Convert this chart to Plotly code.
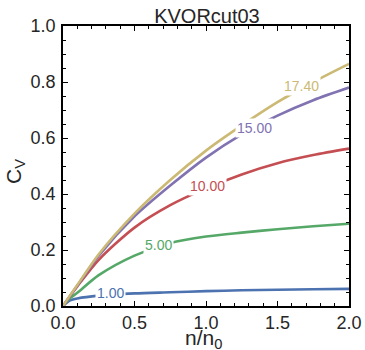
import plotly.graph_objects as go

x_vals = [0, 0.05, 0.1, 0.25, 0.5, 0.75, 1.0, 1.25, 1.5, 1.75, 2.0]
cv_T1 = [0, 0.02, 0.027, 0.037, 0.045, 0.049, 0.053, 0.056, 0.058, 0.06, 0.061]
cv_T5 = [0, 0.028, 0.047, 0.11, 0.18, 0.225, 0.248, 0.262, 0.274, 0.285, 0.294]
cv_T10 = [0, 0.036, 0.07, 0.165, 0.28, 0.36, 0.42, 0.47, 0.51, 0.539, 0.562]
cv_T15 = [0, 0.037, 0.073, 0.18, 0.32, 0.43, 0.53, 0.613, 0.68, 0.735, 0.78]
cv_T17 = [0, 0.038, 0.075, 0.185, 0.33, 0.45, 0.555, 0.645, 0.728, 0.80, 0.865]

labels = ["1.00", "5.00", "10.00", "15.00", "17.40"]
label_x = [0.333, 0.67, 1.01, 1.34, 1.67]
label_y = [0.045, 0.219, 0.43, 0.634, 0.786]
colors = ["#4C72B0", "#55A868", "#C44E52", "#8172B2", "#CCB974"]
series = [cv_T1, cv_T5, cv_T10, cv_T15, cv_T17]

FONT = "Liberation Sans, Arial, sans-serif"
TXT = "#262626"

fig = go.Figure()
for ys, c in zip(series, colors):
    fig.add_trace(go.Scatter(x=x_vals, y=ys, mode="lines",
                             line=dict(color=c, width=2.6, shape="spline", smoothing=0.8),
                             showlegend=False, hoverinfo="skip"))

for t, lx, ly, c in zip(labels, label_x, label_y, colors):
    fig.add_annotation(x=lx, y=ly, text=t, showarrow=False,
                       font=dict(family=FONT, size=14, color=c),
                       bgcolor="white", borderpad=1, xanchor="center", yanchor="middle")

# axis titles
fig.add_annotation(xref="paper", yref="paper", x=0.493, y=-0.118, text="n/n<sub>0</sub>",
                   showarrow=False, xanchor="center", yanchor="middle",
                   font=dict(family=FONT, size=21, color=TXT))
fig.add_annotation(xref="paper", yref="paper", x=-0.17, y=0.48, text="C<sub>V</sub>",
                   showarrow=False, xanchor="center", yanchor="middle", textangle=-90,
                   font=dict(family=FONT, size=21, color=TXT))

axis_common = dict(
    showline=True, linecolor="black", linewidth=1.5, mirror="allticks",
    ticks="inside", ticklen=5, tickwidth=1.2, tickcolor="black",
    showgrid=False, zeroline=False, automargin=False,
    tickfont=dict(family=FONT, size=18, color=TXT),
)

fig.update_xaxes(range=[0, 2.0], tickvals=[0, 0.5, 1.0, 1.5, 2.0],
                 ticktext=["0.0", "0.5", "1.0", "1.5", "2.0"],
                 minor=dict(ticks="inside", dtick=0.1, ticklen=3, tickwidth=1, tickcolor="black"),
                 ticklabelstandoff=0,
                 **axis_common)
fig.update_yaxes(range=[0, 1.0], tickvals=[0, 0.2, 0.4, 0.6, 0.8, 1.0],
                 ticktext=["0.0", "0.2", "0.4", "0.6", "0.8", "1.0"],
                 minor=dict(ticks="inside", dtick=0.05, ticklen=3, tickwidth=1, tickcolor="black"),
                 ticklabelstandoff=2,
                 **axis_common)

fig.update_layout(
    width=365, height=350,
    margin=dict(l=63, r=16, t=26, b=44),
    paper_bgcolor="white", plot_bgcolor="white",
    title=dict(text="KVORcut03", x=0.567, xanchor="center", y=0.955, yanchor="middle",
               font=dict(family=FONT, size=20, color=TXT)),
)

fig.write_html("out.html")
